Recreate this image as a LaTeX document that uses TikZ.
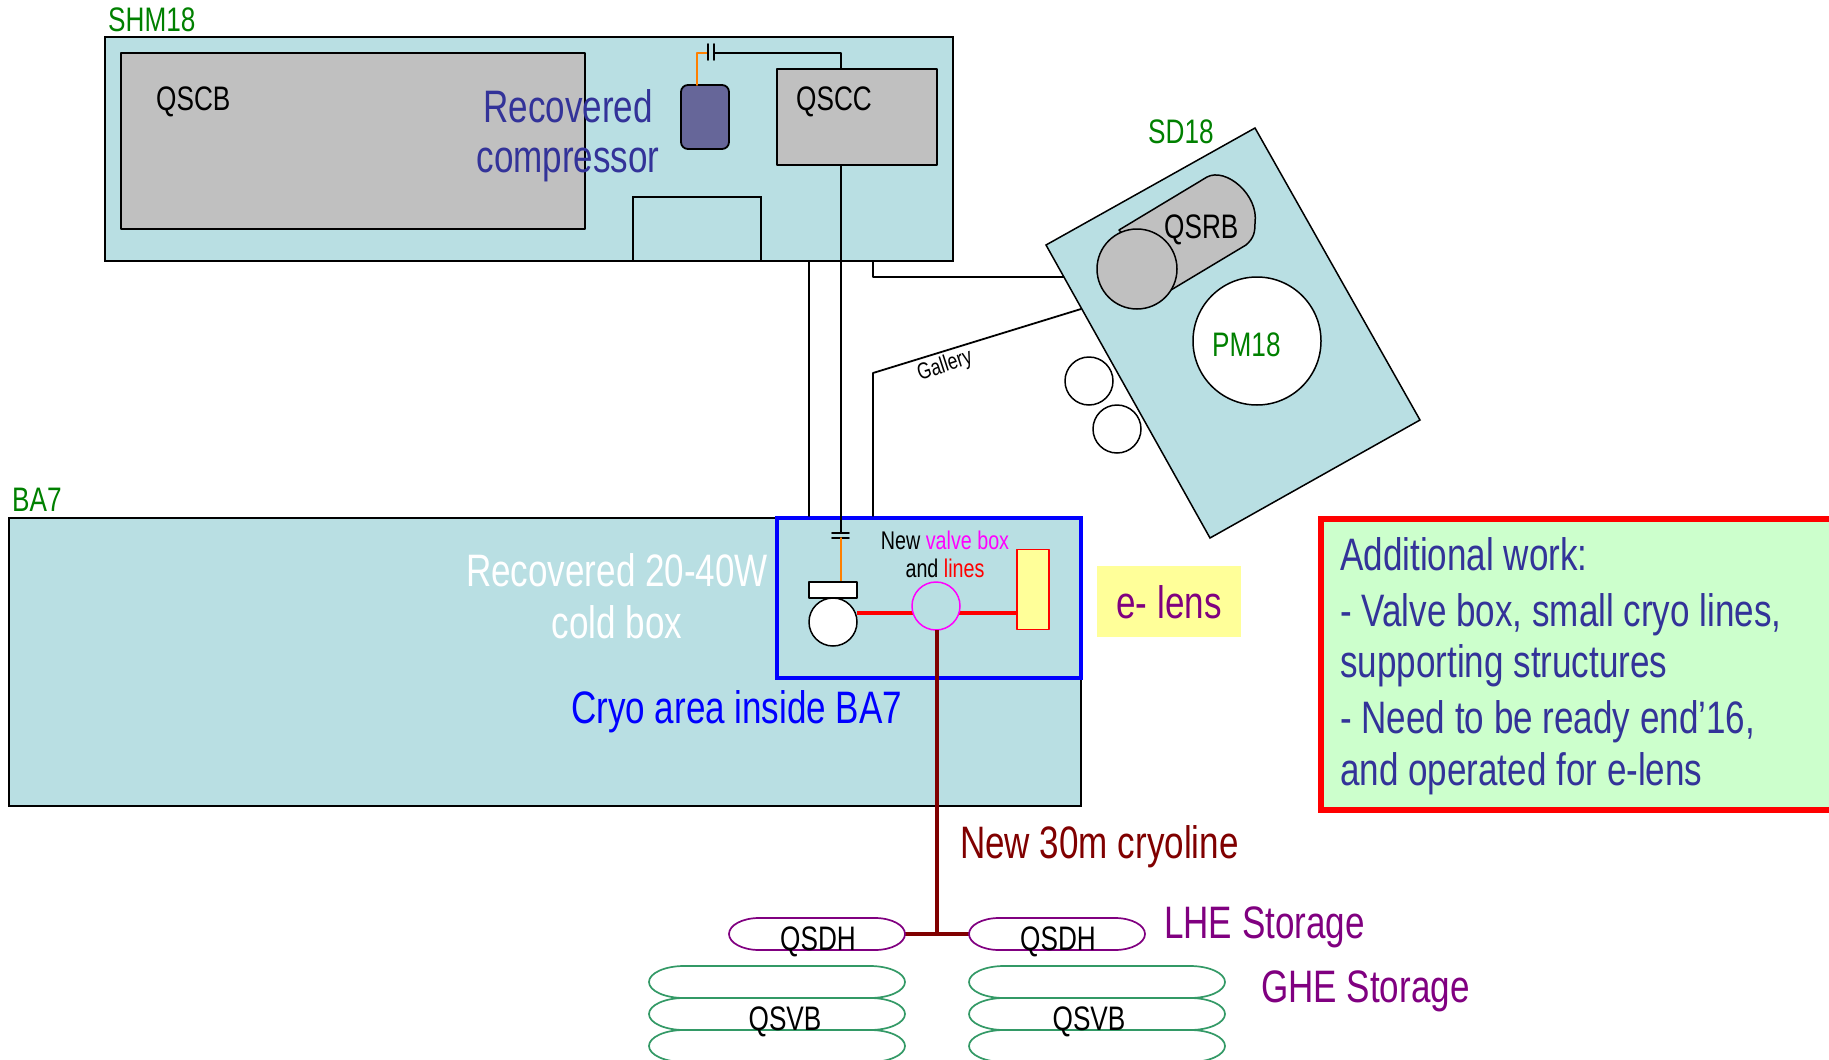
\documentclass[tikz,border=0pt]{standalone}
\usepackage{fontspec}
\setmainfont[FakeStretch=0.77]{Liberation Sans}
\definecolor{hallblue}{HTML}{B9DFE3}
\definecolor{boxgray}{HTML}{C0C0C0}
\definecolor{compblue}{HTML}{666699}
\definecolor{textblue}{HTML}{333399}
\definecolor{sitegreen}{HTML}{008000}
\definecolor{tankgreen}{HTML}{339966}
\definecolor{notegreen}{HTML}{CCFFCC}
\definecolor{lensyellow}{HTML}{FFFF99}
\definecolor{helium}{HTML}{800080}
\definecolor{darkline}{HTML}{800000}
\definecolor{warmline}{HTML}{FF8000}
\definecolor{valvepink}{HTML}{FF00FF}
\definecolor{purered}{HTML}{FF0000}
\definecolor{pureblue}{HTML}{0000FF}
\newcommand{\fsz}[1]{\fontsize{#1}{#1}\selectfont}
\tikzset{
  hall/.style={draw=black,fill=hallblue,line width=1.8pt,line join=miter},
  unit/.style={draw=black,fill=boxgray,line width=1.8pt},
  pipe/.style={black,line width=1.8pt},
  warm/.style={warmline,line width=1.8pt},
  cryo/.style={purered,line width=3.5pt},
  trunk/.style={darkline,line width=4pt},
  lhetank/.style={draw=helium,line width=1.7pt},
  ghetank/.style={draw=tankgreen,line width=1.7pt},
  lbl/.style={inner sep=0pt,anchor=west,text=black,font=\fsz{34}},
  site/.style={lbl,text=sitegreen},
  big/.style={lbl,font=\fsz{45.5}},
  note/.style={big,text=textblue}
}
\begin{document}
\begin{tikzpicture}[x=1pt,y=-1pt,line cap=round,line join=round]
  \useasboundingbox (0,0) rectangle (1829,1060);
  \clip (0,0) rectangle (1829,1060);

  \draw[hall] (105,37) rectangle (953,261);
  \draw[unit] (121,53) rectangle (585,229);
  \draw[unit] (777,69) rectangle (937,165);
  \draw[hall] (633,197) rectangle (761,261);
  \draw[draw=black,fill=compblue,line width=1.8pt,rounded corners=7pt] (681,85) rectangle (729,149);

  \draw[hall] (9,518) rectangle (1081,806);
  \draw[pureblue,fill=hallblue,line width=4pt,line cap=butt,line join=miter] (777,518) rectangle (1081,678);

  \coordinate (capTopL) at (708,53);
  \coordinate (capTopR) at (714,53);
  \coordinate (qsccTop) at (841,69);
  \coordinate (compTop) at (697,85);
  \coordinate (capLowT) at (841,533);
  \coordinate (capLowB) at (841,538);
  \draw[warm] (compTop) -- (compTop |- capTopL) -- (capTopL);
  \draw[pipe] (capTopR) -| (qsccTop);
  \draw[pipe] (708,44) -- (708,60);
  \draw[pipe] (714,44) -- (714,60);
  \draw[pipe] (841,165) -- (capLowT);
  \draw[pipe] (832,533) -- (849,533);
  \draw[pipe] (832,538) -- (849,538);
  \draw[warm] (capLowB) -- (841,582);
  \draw[pipe] (809,261) -- (809,516);
  \draw[pipe] (873,261) -- (873,277) -- (1064,277);
  \draw[pipe] (873,516) -- (873,373) -- (1081,309);

  \draw[hall,line width=1.5pt] (1255,128) -- (1420,420) -- (1210,538) -- (1046,245) -- cycle;
  \draw[unit,line width=1.5pt] (1119,230) -- (1207,177)
    .. controls (1226,167) and (1259,195) .. (1255,223)
    .. controls (1255,232) and (1254,238) .. (1246,245) -- (1171,290) -- cycle;
  \draw[unit,line width=1.5pt] (1137,269) circle[radius=40];
  \draw[fill=white,line width=1.5pt] (1257,341) circle[radius=64];
  \draw[line width=1.5pt] (1089,381) circle[radius=24];
  \draw[line width=1.5pt] (1117,429) circle[radius=24];

  \draw[cryo,line cap=butt] (857,613) -- (913,613);
  \draw[cryo,line cap=butt] (959,613) -- (1017,613);
  \draw[draw=black,fill=white,line width=1.8pt] (809,582) rectangle (857,598);
  \draw[draw=black,fill=white,line width=1.5pt] (833,622) circle[radius=24];
  \draw[valvepink,line width=1.5pt] (936,606) circle[radius=24];
  \draw[draw=purered,fill=lensyellow,line width=1.8pt] (1017,549.5) rectangle (1049,629.5);
  \draw[trunk,line cap=butt] (937,630) -- (937,935);
  \draw[trunk,line cap=butt] (905,934) -- (969,934);

  \foreach \xa/\xb in {729/905,969/1145}
    \draw[lhetank] (\xa+30,918) -- (\xb-30,918) arc[start angle=-90,end angle=90,x radius=30,y radius=16]
      -- (\xa+30,950) arc[start angle=90,end angle=270,x radius=30,y radius=16] -- cycle;
  \foreach \xa/\xb in {649/905,969/1225}
    \foreach \ya in {966,998,1030}
      \draw[ghetank] (\xa+35,\ya) -- (\xb-35,\ya) arc[start angle=-90,end angle=90,x radius=35,y radius=16]
        -- (\xa+35,\ya+32) arc[start angle=90,end angle=270,x radius=35,y radius=16] -- cycle;

  \fill[lensyellow] (1097,565.5) rectangle (1241,636.5);
  \draw[draw=purered,fill=notegreen,line width=6pt,line cap=butt,line join=miter] (1321,519) rectangle (1850,809.5);

  \node[site] (shmName) at (108,20) {SHM18};
  \node[site] (sdName) at (1148,132) {SD18};
  \node[site] (baName) at (12,500) {BA7};
  \node[lbl] (qscbName) at (156,102) {QSCB};
  \node[lbl] (qsccName) at (796,102) {QSCC};
  \node[lbl] (qsrbName) at (1164,230) {QSRB};
  \node[site] (pmName) at (1212,345) {PM18};
  \node[lbl,font=\fsz{23},rotate=18,anchor=center] (galleryName) at (945,366) {Gallery};
  \node[note,anchor=center] (compLineA) at (568,106) {Recovered};
  \node[note,anchor=center] (compLineB) at (568,165) {compressor};
  \node[big,anchor=center,text=white] (coldLineA) at (617,570) {Recovered 20-40W};
  \node[big,anchor=center,text=white] (coldLineB) at (617,622) {cold box};
  \node[big,text=pureblue] (cryoName) at (571,712) {Cryo area inside BA7};
  \node[lbl,font=\fsz{25.6},anchor=center] (valveLineA) at (945,540) {New \textcolor{valvepink}{valve box}};
  \node[lbl,font=\fsz{25.6},anchor=center] (valveLineB) at (945,568) {and \textcolor{purered}{lines}};
  \node[big,anchor=center,text=helium] (lensName) at (1169,602) {e- lens};
  \node[note] (noteA) at (1340,554) {Additional work:};
  \node[note] (noteB) at (1340,615) {- Valve box, small cryo lines,};
  \node[note] (noteC) at (1340,666) {supporting structures};
  \node[note] (noteD) at (1340,722) {- Need to be ready end’16,};
  \node[note] (noteE) at (1340,774) {and operated for e-lens};
  \node[big,text=darkline] (lineName) at (960,847) {New 30m cryoline};
  \node[big,text=helium] (lheName) at (1164,927) {LHE Storage};
  \node[big,text=helium] (gheName) at (1261,991) {GHE Storage};
  \node[lbl,anchor=center] (qsdhA) at (818,942) {QSDH};
  \node[lbl,anchor=center] (qsdhB) at (1058,942) {QSDH};
  \node[lbl,anchor=center] (qsvbA) at (785,1022) {QSVB};
  \node[lbl,anchor=center] (qsvbB) at (1089,1022) {QSVB};
\end{tikzpicture}
\end{document}
